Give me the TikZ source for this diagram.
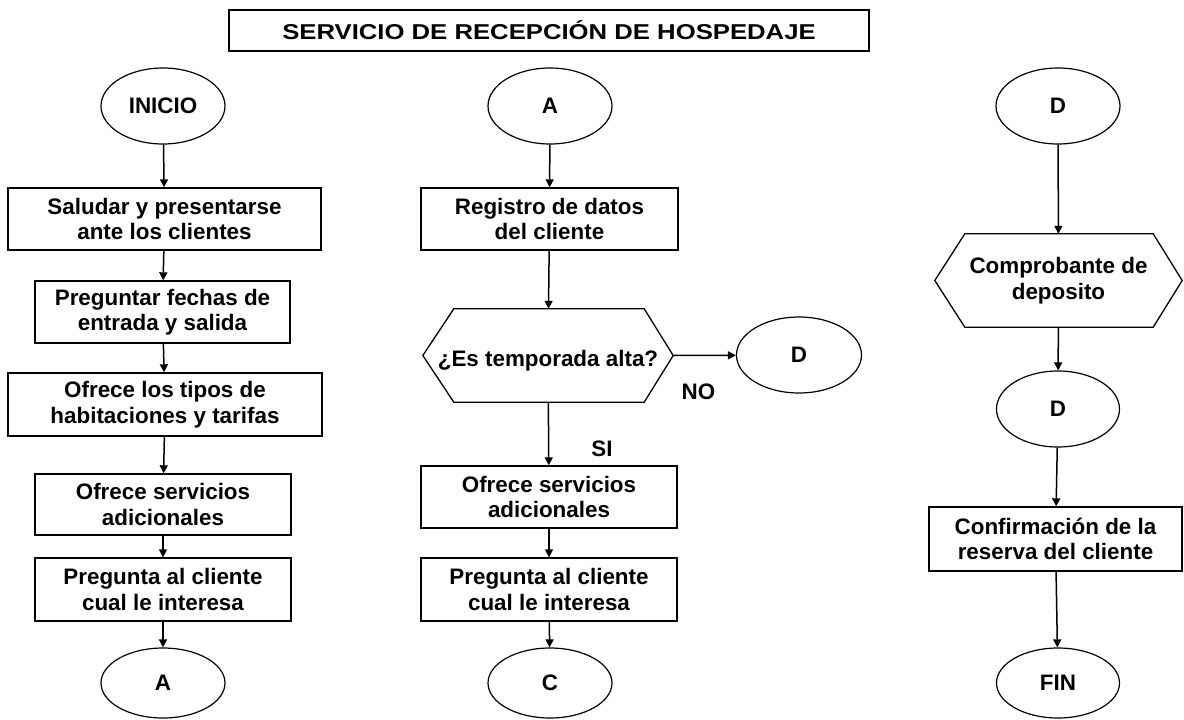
\documentclass[tikz,border=0pt]{standalone}
\usepackage{fontspec}
\setmainfont{Liberation Sans}
\usetikzlibrary{arrows.meta,shapes.geometric}
\begin{document}
\begin{tikzpicture}[x=1pt,y=-1pt,
  every node/.style={font=\fontsize{22.4}{25.5}\selectfont\bfseries, align=center, inner sep=0pt},
  procbox/.style={draw, line width=1.4pt, rectangle},
  term/.style={draw, ellipse, line width=1.2pt, minimum width=124pt, minimum height=76pt},
  hexbox/.style={rectangle, minimum height=93pt},
  shapeline/.style={line width=1.3pt, line join=miter},
  arr/.style={-{Triangle[length=8pt,width=8pt]}, line width=1.5pt}
]
\useasboundingbox (0,0) rectangle (1184,720);

% title
\node[procbox, minimum width=640pt, minimum height=41pt, font=\fontsize{21.5}{25}\selectfont\bfseries] (title) at (549,30.5)
  {\scalebox{1.195}[1]{SERVICIO DE RECEPCIÓN DE HOSPEDAJE}};

% column 1
\node[term] (inicio) at (163,106) {INICIO};
\node[procbox, minimum width=313pt, minimum height=62pt] (b1) at (164.5,219) {Saludar y presentarse\\ante los clientes};
\node[procbox, minimum width=255pt, minimum height=62pt] (b2) at (162.5,312) {Preguntar fechas de\\entrada y salida};
\node[procbox, minimum width=314pt, minimum height=63pt] (b3) at (165,404.5) {Ofrece los tipos de\\habitaciones y tarifas};
\node[procbox, minimum width=256pt, minimum height=61pt] (b4) at (163,504.5) {Ofrece servicios\\adicionales};
\node[procbox, minimum width=256pt, minimum height=63pt] (b5) at (163,589.5) {Pregunta al cliente\\cual le interesa};
\node[term, minimum height=70pt] (a1) at (163,683) {A};

% column 2
\node[term] (a2) at (550,106) {A};
\node[procbox, minimum width=257pt, minimum height=62pt] (reg) at (549.5,219) {Registro de datos\\del cliente};
\node[hexbox, minimum width=250pt, text height=23pt, text depth=1pt] (hex1) at (548,355.5) {¿Es temporada alta?};
\draw[shapeline] (hex1.west) -- ([xshift=31pt]hex1.north west) -- ([xshift=-29pt]hex1.north east)
  -- (hex1.east) -- ([xshift=-29pt]hex1.south east) -- ([xshift=31pt]hex1.south west) -- cycle;
\node[term, minimum width=125pt] (d1) at (799,355) {D};
\node (no) at (698.5,391.5) {NO};
\node (si) at (602,449) {SI};
\node[procbox, minimum width=256pt, minimum height=62pt] (b6) at (549,497) {Ofrece servicios\\adicionales};
\node[procbox, minimum width=256pt, minimum height=63pt] (b7) at (549,589.5) {Pregunta al cliente\\cual le interesa};
\node[term, minimum height=70pt] (c) at (550,683) {C};

% column 3
\node[term] (d0) at (1058,106) {D};
\node[hexbox, minimum width=247pt] (hex2) at (1058.5,280.5) {Comprobante de\\deposito};
\draw[shapeline] (hex2.west) -- ([xshift=30pt]hex2.north west) -- ([xshift=-29pt]hex2.north east)
  -- (hex2.east) -- ([xshift=-29pt]hex2.south east) -- ([xshift=30pt]hex2.south west) -- cycle;
\node[term, minimum width=123pt] (d2) at (1058,409) {D};
\node[procbox, minimum width=253pt, minimum height=64pt] (b8) at (1055.5,539) {Confirmación de la\\reserva del cliente};
\node[term, minimum width=123pt, minimum height=70pt] (fin) at (1058,683) {FIN};

% connectors
\draw[arr] (inicio) -- (b1);
\draw[arr] (b1) -- (b2);
\draw[arr] (b2) -- (b3);
\draw[arr] (b3) -- (b4);
\draw[arr] (b4) -- (b5);
\draw[arr] (b5) -- (a1);

\draw[arr] (a2) -- (reg);
\draw[arr] (reg) -- (hex1);
\draw[arr] (hex1.east) -- (d1);
\draw[arr] (hex1) -- (b6);
\draw[arr] (b6) -- (b7);
\draw[arr] (b7) -- (c);

\draw[arr] (d0) -- (hex2);
\draw[arr] (hex2) -- (d2);
\draw[arr] (d2) -- (b8);
\draw[arr] (b8) -- (fin);
\end{tikzpicture}
\end{document}
